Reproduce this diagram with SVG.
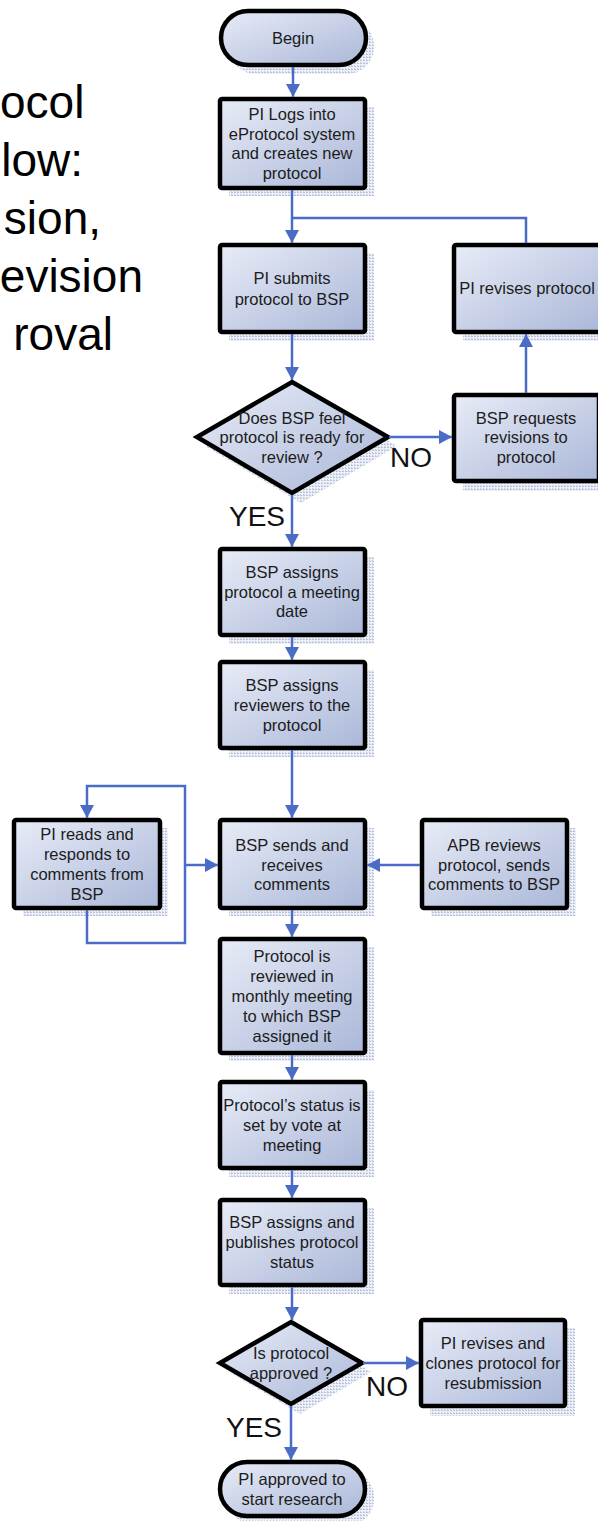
<svg xmlns="http://www.w3.org/2000/svg" width="598" height="1521" viewBox="0 0 598 1521">
<style>
.box{fill:url(#grad);stroke:#000;stroke-width:4.5}
.sh{fill:url(#hatch)}
.t{font-family:"Liberation Sans",Arial,sans-serif;font-size:16.5px;fill:#1c1c1c;text-anchor:middle}
.lbl{font-family:"Liberation Sans",Arial,sans-serif;font-size:28px;fill:#111}
.title{font-family:"Liberation Sans",Arial,sans-serif;font-size:46px;fill:#000;text-anchor:end}
.c{fill:none;stroke:#4a6cc6;stroke-width:2.5}
</style>
<defs>
<linearGradient id="grad" x1="0" y1="0" x2="1" y2="1">
<stop offset="0" stop-color="#e8ecf7"/>
<stop offset="1" stop-color="#aab7d8"/>
</linearGradient>
<pattern id="hatch" width="3" height="3" patternUnits="userSpaceOnUse">
<rect width="3" height="3" fill="#eef0f7"/>
<rect width="2" height="1" fill="#b8c1da"/>
<rect y="2" width="1" height="1" fill="#c8cfe3"/>
</pattern>
<marker id="arr" markerUnits="userSpaceOnUse" markerWidth="14" markerHeight="14" refX="13" refY="7" orient="auto">
<path d="M0,0 L13,7 L0,14 z" fill="#4a6cc6"/>
</marker>
</defs>
<rect width="598" height="1521" fill="#fff"/>

<g id="title">
<text class="title" x="0" y="118" style="text-anchor:start">ocol</text>
<text class="title" x="83" y="176">low:</text>
<text class="title" x="101" y="234">sion,</text>
<text class="title" x="143" y="292">evision</text>
<text class="title" x="113" y="350">roval</text>
</g>

<g id="n-begin">
<rect class="sh" x="229" y="19" width="145" height="55" rx="27"/>
<rect class="box" x="221" y="11" width="145" height="54" rx="27"/>
<text class="t" x="293" y="44">Begin</text>
</g>

<g id="n-login">
<rect class="sh" x="229" y="107" width="145" height="89"/>
<rect class="box" x="220" y="99" width="145" height="89" rx="2"/>
<text class="t" x="292" y="120">PI Logs into</text>
<text class="t" x="292" y="140">eProtocol system</text>
<text class="t" x="292" y="159">and creates new</text>
<text class="t" x="292" y="179">protocol</text>
</g>

<g id="n-submit">
<rect class="sh" x="229" y="253" width="145" height="88"/>
<rect class="box" x="220" y="245" width="145" height="87" rx="2"/>
<text class="t" x="292" y="284">PI submits</text>
<text class="t" x="292" y="305">protocol to BSP</text>
</g>

<g id="n-revise">
<rect class="sh" x="463" y="253" width="145" height="88"/>
<rect class="box" x="454" y="245" width="148" height="87" rx="2"/>
<text class="t" x="527" y="294">PI revises protocol</text>
</g>

<g id="n-ready">
<polygon class="sh" points="301,390 397,446 301,503 205,446"/>
<polygon class="box" points="292,382 388,437 292,493 197,437" stroke-linejoin="miter"/>
<text class="t" x="292" y="424">Does BSP feel</text>
<text class="t" x="292" y="443">protocol is ready for</text>
<text class="t" x="292" y="463">review ?</text>
</g>

<g id="n-request">
<rect class="sh" x="463" y="403" width="145" height="88"/>
<rect class="box" x="454" y="395" width="145" height="86" rx="2"/>
<text class="t" x="526" y="424">BSP requests</text>
<text class="t" x="526" y="443">revisions to</text>
<text class="t" x="526" y="463">protocol</text>
</g>

<g id="n-date">
<rect class="sh" x="229" y="557" width="145" height="87"/>
<rect class="box" x="220" y="549" width="145" height="86" rx="2"/>
<text class="t" x="292" y="578">BSP assigns</text>
<text class="t" x="292" y="598">protocol a meeting</text>
<text class="t" x="292" y="617">date</text>
</g>

<g id="n-reviewers">
<rect class="sh" x="229" y="670" width="145" height="87"/>
<rect class="box" x="220" y="662" width="145" height="86" rx="2"/>
<text class="t" x="292" y="691">BSP assigns</text>
<text class="t" x="292" y="711">reviewers to the</text>
<text class="t" x="292" y="731">protocol</text>
</g>

<g id="n-pireads">
<rect class="sh" x="23" y="828" width="145" height="88"/>
<rect class="box" x="14" y="820" width="146" height="88" rx="2"/>
<text class="t" x="87" y="840">PI reads and</text>
<text class="t" x="87" y="860">responds to</text>
<text class="t" x="87" y="880">comments from</text>
<text class="t" x="87" y="900">BSP</text>
</g>

<g id="n-sends">
<rect class="sh" x="229" y="828" width="145" height="88"/>
<rect class="box" x="220" y="820" width="145" height="88" rx="2"/>
<text class="t" x="292" y="851">BSP sends and</text>
<text class="t" x="292" y="871">receives</text>
<text class="t" x="292" y="890">comments</text>
</g>

<g id="n-apb">
<rect class="sh" x="431" y="828" width="145" height="88"/>
<rect class="box" x="422" y="820" width="145" height="88" rx="2"/>
<text class="t" x="494" y="851">APB reviews</text>
<text class="t" x="494" y="871">protocol, sends</text>
<text class="t" x="494" y="890">comments to BSP</text>
</g>

<g id="n-meeting">
<rect class="sh" x="229" y="947" width="145" height="114"/>
<rect class="box" x="220" y="939" width="145" height="114" rx="2"/>
<text class="t" x="292" y="962">Protocol is</text>
<text class="t" x="292" y="982">reviewed in</text>
<text class="t" x="292" y="1002">monthly meeting</text>
<text class="t" x="292" y="1022">to which BSP</text>
<text class="t" x="292" y="1042">assigned it</text>
</g>

<g id="n-status">
<rect class="sh" x="229" y="1090" width="145" height="87"/>
<rect class="box" x="220" y="1082" width="145" height="86" rx="2"/>
<text class="t" x="292" y="1111">Protocol’s status is</text>
<text class="t" x="292" y="1131">set by vote at</text>
<text class="t" x="292" y="1151">meeting</text>
</g>

<g id="n-publish">
<rect class="sh" x="229" y="1208" width="145" height="86"/>
<rect class="box" x="220" y="1200" width="145" height="85" rx="2"/>
<text class="t" x="292" y="1228">BSP assigns and</text>
<text class="t" x="292" y="1248">publishes protocol</text>
<text class="t" x="292" y="1268">status</text>
</g>

<g id="n-approved">
<polygon class="sh" points="300,1330 371,1372 300,1414 229,1372"/>
<polygon class="box" points="291,1322 362,1363 291,1404 220,1363" stroke-linejoin="miter"/>
<text class="t" x="291" y="1359">Is protocol</text>
<text class="t" x="291" y="1379">approved ?</text>
</g>

<g id="n-clone">
<rect class="sh" x="430" y="1328" width="145" height="88"/>
<rect class="box" x="421" y="1320" width="144" height="86" rx="2"/>
<text class="t" x="493" y="1349">PI revises and</text>
<text class="t" x="493" y="1369">clones protocol for</text>
<text class="t" x="493" y="1389">resubmission</text>
</g>

<g id="n-end">
<rect class="sh" x="229" y="1470" width="145" height="56" rx="27"/>
<rect class="box" x="220" y="1462" width="145" height="54" rx="27"/>
<text class="t" x="292" y="1485">PI approved to</text>
<text class="t" x="292" y="1505">start research</text>
</g>

<g id="connectors">
<path class="c" d="M293,67 V97" marker-end="url(#arr)"/>
<path class="c" d="M292,190 V243" marker-end="url(#arr)"/>
<path class="c" d="M526,243 V218 H292"/>
<path class="c" d="M292,334 V380" marker-end="url(#arr)"/>
<path class="c" d="M389,437 H452" marker-end="url(#arr)"/>
<path class="c" d="M526,393 V334" marker-end="url(#arr)"/>
<path class="c" d="M292,495 V547" marker-end="url(#arr)"/>
<path class="c" d="M292,637 V660" marker-end="url(#arr)"/>
<path class="c" d="M292,750 V818" marker-end="url(#arr)"/>
<path class="c" d="M87,910 V943 H185 V786 H87 V818" marker-end="url(#arr)"/>
<path class="c" d="M185,865 H218" marker-end="url(#arr)"/>
<path class="c" d="M420,865 H367" marker-end="url(#arr)"/>
<path class="c" d="M292,910 V937" marker-end="url(#arr)"/>
<path class="c" d="M292,1055 V1080" marker-end="url(#arr)"/>
<path class="c" d="M292,1170 V1198" marker-end="url(#arr)"/>
<path class="c" d="M292,1287 V1320" marker-end="url(#arr)"/>
<path class="c" d="M363,1363 H419" marker-end="url(#arr)"/>
<path class="c" d="M291,1406 V1460" marker-end="url(#arr)"/>
</g>

<g id="labels">
<text class="lbl" x="390" y="467">NO</text>
<text class="lbl" x="229" y="526">YES</text>
<text class="lbl" x="366" y="1396">NO</text>
<text class="lbl" x="226" y="1437">YES</text>
</g>
</svg>
